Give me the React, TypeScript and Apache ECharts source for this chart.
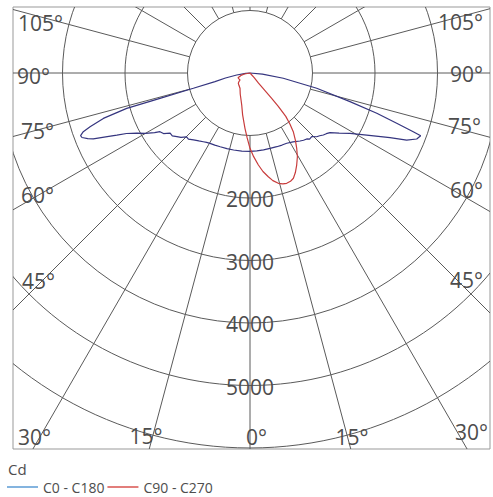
import React, { useEffect, useRef } from "react";
import * as echarts from "echarts";

// ---- data ----
const ringValues = [1000, 2000, 3000, 4000, 5000, 6000];
const ringLabelValues = [2000, 3000, 4000, 5000];
const spokeAngles = [0, 15, 30, 45, 60, 75, 90, 105, 120, 135, 150, 165, 180, 195, 210, 225, 240, 255, 270, 285, 300, 315, 330, 345];
const angleLabels = ["105°", "90°", "75°", "60°", "45°", "30°", "15°", "0°", "15°", "30°", "45°", "60°", "75°", "90°", "105°"];
const seriesNames = ["C0 - C180", "C90 - C270"];

// C0 - C180 (negative angle = C180 side, left)
const c0Angles = [
  -90, -86, -81.4, -78.5, -76.1, -74.9, -74.3, -74.0, -72.8, -71.4, -70.6, -69.7, -69, -68, -67.2, -66, -65, -63.9, -62, -60,
  -58, -56.9, -55, -53, -51, -49, -47, -44.8, -43, -40.2, -37, -34.2, -32, -29.6, -26, -22, -17, -12, -6,
  0, 5, 10, 14.9, 20, 24, 27.6, 32, 36.3, 38.5, 40.7, 42, 44.1, 46.3, 48, 49.8, 51.5, 53.3, 56, 58.9, 62, 65.2, 66.8,
  68.4, 69.8, 70.2, 71.1, 72.4, 74, 77.1, 81, 85, 90,
];
const c0Values = [
  0, 70, 215, 400, 577, 939, 1496, 2052, 2456, 2700, 2828, 2890, 2880, 2800, 2720, 2500, 2350, 2200, 2050, 1930,
  1800, 1720, 1690, 1600, 1600, 1550, 1510, 1440, 1445, 1400, 1360, 1330, 1310, 1295, 1285, 1273, 1265, 1260, 1258,
  1255, 1250, 1248, 1247, 1255, 1262, 1269, 1300, 1350, 1375, 1392, 1425, 1419, 1476, 1500, 1536, 1560, 1597, 1720, 1869, 2115, 2467, 2727,
  2869, 2910, 2776, 2481, 2128, 1664, 1095, 539, 200, 0,
];

// C90 - C270
const c90Angles = [
  -90, -80, -75, -68.6, -62, -55, -52, -48.6, -42, -33.2, -25, -20, -14.5, -10, -5.2, -2.5,
  0, 2.5, 5.2, 7.5, 10, 12, 14.4, 16.5, 18.4, 20.5, 22.4, 24.5, 26.9, 29.5, 31.8, 34, 36.4, 38, 39.5, 40.3, 40.6, 40.5, 40, 42, 45, 90,
];
const c90Values = [
  0, 90, 150, 206, 200, 195, 225, 249, 265, 292, 370, 430, 529, 680, 888, 1040,
  1205, 1340, 1478, 1590, 1685, 1760, 1822, 1850, 1860, 1850, 1822, 1750, 1651, 1540, 1418, 1300, 1167, 1040, 900, 700, 533, 380, 212, 100, 0, 0,
];

// ---- layout ----
const BOX_L = 13, BOX_T = 7, BOX_R = 490, BOX_B = 449;
const CX = 250, CY = 73;
const PX_PER_CD = 62.5 / 1000;
const X_MIN = (BOX_L - CX) / PX_PER_CD;
const X_MAX = (BOX_R - CX) / PX_PER_CD;
const Y_MAX = (CY - BOX_T) / PX_PER_CD;
const Y_MIN = (CY - BOX_B) / PX_PER_CD;
const R_MAX = 6000;

const GRID_COLOR = "#5a5a5a";
const TEXT_COLOR = "#4d4d4d";
const FONT = '"Open Sans", sans-serif';

// label anchors: [x, y, align]
const angleLabelPos: [number, number, string][] = [
  [18, 23, "left"], [17, 76, "left"], [21, 131, "left"], [21, 195, "left"], [22, 281, "left"], [18, 437, "left"],
  [146, 436, "center"], [246, 437, "left"], [352, 437, "center"],
  [488, 432, "right"], [483, 280, "right"], [483, 190, "right"], [481, 126, "right"], [483, 74, "right"], [483, 22, "right"],
];

export default function App() {
  const ref = useRef<HTMLDivElement>(null);
  useEffect(() => {
    if (!ref.current) return;
    const chart = echarts.init(ref.current, undefined, { renderer: "svg" });
    const rad = Math.PI / 180;
    const option: any = {
      animation: false,
      grid: {
        left: BOX_L, top: BOX_T, width: BOX_R - BOX_L, height: BOX_B - BOX_T,
        show: true, borderColor: "#999", borderWidth: 1, backgroundColor: "transparent",
      },
      xAxis: { type: "value", min: X_MIN, max: X_MAX, show: false },
      yAxis: { type: "value", min: Y_MIN, max: Y_MAX, show: false },
      polar: { center: [CX, CY], radius: R_MAX * PX_PER_CD },
      angleAxis: { type: "value", min: -180, max: 180, startAngle: 90, clockwise: false, show: false },
      radiusAxis: { type: "value", min: 0, max: R_MAX, show: false },
      legend: {
        left: 7, top: 480, icon: "rect", itemWidth: 31, itemHeight: 1.5, itemGap: 3, padding: 0,
        textStyle: { color: TEXT_COLOR, fontSize: 14, fontFamily: FONT },
        data: [
          { name: seriesNames[0], itemStyle: { color: "#5b9bd5" } },
          { name: seriesNames[1], itemStyle: { color: "#d9534f" } },
        ],
      },
      graphic: [
        ...angleLabels.map((t, i) => ({
          type: "text",
          x: angleLabelPos[i][0],
          y: angleLabelPos[i][1],
          z: 10,
          style: {
            text: t, fill: TEXT_COLOR, font: `21px ${FONT}`,
            textAlign: angleLabelPos[i][2], textVerticalAlign: "middle",
            align: angleLabelPos[i][2], verticalAlign: "middle",
          },
        })),
        {
          type: "text", x: 8, y: 469,
          style: { text: "Cd", fill: TEXT_COLOR, font: `15px ${FONT}`, textVerticalAlign: "middle", verticalAlign: "middle" },
        },
      ],
      series: [
        {
          type: "custom", name: "rings", coordinateSystem: "cartesian2d", clip: true, z: 1, silent: true,
          data: ringValues.map((v) => [v, 0]),
          renderItem: (params: any, api: any) => {
            const v = api.value(0);
            const c = api.coord([0, 0]);
            const r = api.size([v, 0])[0];
            return { type: "circle", shape: { cx: c[0], cy: c[1], r }, style: { fill: "none", stroke: GRID_COLOR, lineWidth: 1 } };
          },
        },
        {
          type: "custom", name: "spokes", coordinateSystem: "cartesian2d", clip: true, z: 1, silent: true,
          data: spokeAngles.map((a) => [a, 0]),
          renderItem: (params: any, api: any) => {
            const a = api.value(0) * rad;
            const p1 = api.coord([Math.sin(a) * ringValues[0], -Math.cos(a) * ringValues[0]]);
            const p2 = api.coord([Math.sin(a) * 14000, -Math.cos(a) * 14000]);
            return { type: "line", shape: { x1: p1[0], y1: p1[1], x2: p2[0], y2: p2[1] }, style: { stroke: GRID_COLOR, lineWidth: 1 } };
          },
        },
        {
          type: "custom", name: "ringLabels", coordinateSystem: "cartesian2d", clip: false, z: 5, silent: true,
          data: ringLabelValues.map((v) => [0, -v]),
          renderItem: (params: any, api: any) => {
            const p = api.coord([api.value(0), api.value(1)]);
            return {
              type: "text", x: p[0], y: p[1] + 1,
              style: { text: String(-api.value(1)), fill: TEXT_COLOR, font: `21px ${FONT}`, textAlign: "center", textVerticalAlign: "middle", align: "center", verticalAlign: "middle" },
            };
          },
        },
        {
          type: "line", name: seriesNames[0], coordinateSystem: "polar", symbol: "none", z: 4,
          lineStyle: { color: "#35357f", width: 1.2 }, itemStyle: { color: "#35357f" },
          data: c0Angles.map((a, i) => [c0Values[i], a]),
        },
        {
          type: "line", name: seriesNames[1], coordinateSystem: "polar", symbol: "none", z: 4,
          lineStyle: { color: "#c83c3c", width: 1.2 }, itemStyle: { color: "#c83c3c" },
          data: c90Angles.map((a, i) => [c90Values[i], a]),
        },
      ],
    };
    chart.setOption(option);
    return () => chart.dispose();
  }, []);
  return <div ref={ref} style={{ position: "fixed", left: 0, top: 0, width: 493, height: 497, background: "#fff" }} />;
}
